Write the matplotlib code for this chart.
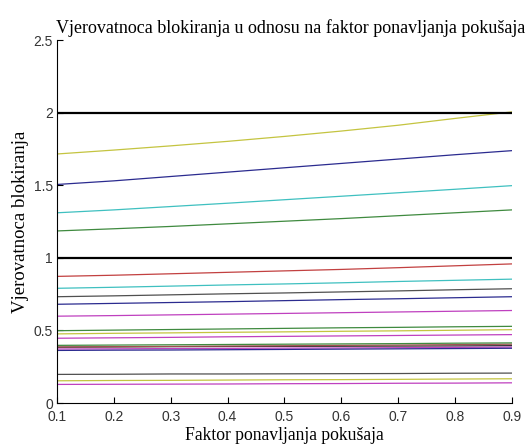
import numpy as np
import matplotlib
matplotlib.use("Agg")
import matplotlib.pyplot as plt

# x values (retry factor)
x = [0.1, 0.2, 0.3, 0.4, 0.5, 0.6, 0.7, 0.8, 0.9]

# blocking probability curves
upper_yellow = [1.715, 1.742, 1.771, 1.802, 1.836, 1.873, 1.913, 1.96, 2.005]
upper_navy = [1.505, 1.53, 1.56, 1.59, 1.62, 1.65, 1.68, 1.71, 1.738]
upper_cyan = [1.31, 1.33, 1.353, 1.376, 1.40, 1.424, 1.448, 1.472, 1.497]
upper_green = [1.185, 1.20, 1.216, 1.234, 1.252, 1.27, 1.29, 1.31, 1.33]

low_red = [0.872, 0.88, 0.89, 0.90, 0.91, 0.92, 0.932, 0.945, 0.958]
low_cyan = [0.79, 0.797, 0.805, 0.813, 0.82, 0.828, 0.837, 0.845, 0.853]
low_gray = [0.732, 0.738, 0.745, 0.752, 0.758, 0.765, 0.772, 0.78, 0.787]
low_navy = [0.68, 0.686, 0.692, 0.698, 0.705, 0.712, 0.718, 0.725, 0.732]
low_magenta = [0.598, 0.602, 0.607, 0.612, 0.617, 0.622, 0.627, 0.632, 0.637]
low_green = [0.498, 0.502, 0.506, 0.51, 0.514, 0.518, 0.521, 0.525, 0.528]
low_yellow = [0.476, 0.48, 0.483, 0.487, 0.49, 0.494, 0.497, 0.501, 0.505]
low_purple = [0.446, 0.449, 0.452, 0.456, 0.459, 0.462, 0.465, 0.468, 0.471]
band_green = [0.397, 0.399, 0.401, 0.403, 0.405, 0.407, 0.409, 0.412, 0.414]
band_red = [0.386, 0.388, 0.39, 0.392, 0.394, 0.397, 0.399, 0.402, 0.405]
band_black = [0.384, 0.386, 0.388, 0.389, 0.39, 0.391, 0.392, 0.393, 0.395]
band_magenta = [0.372, 0.373, 0.375, 0.376, 0.378, 0.379, 0.381, 0.383, 0.385]
band_navy = [0.362, 0.364, 0.365, 0.367, 0.369, 0.371, 0.373, 0.375, 0.377]
bot_gray = [0.197, 0.198, 0.2, 0.2, 0.201, 0.202, 0.203, 0.205, 0.206]
bot_yellow = [0.153, 0.155, 0.156, 0.158, 0.16, 0.161, 0.163, 0.165, 0.167]
bot_magenta = [0.128, 0.129, 0.13, 0.131, 0.133, 0.134, 0.136, 0.137, 0.139]

limit_two = [2.0] * len(x)
limit_one = [1.0] * len(x)

xticks = [0.1, 0.2, 0.3, 0.4, 0.5, 0.6, 0.7, 0.8, 0.9]
yticks = [0, 0.5, 1, 1.5, 2, 2.5]
ytick_labels = ["0", "0.5", "1", "1.5", "2", "2.5"]

navy = "#2b2b8f"
green = "#3f8a3f"
red = "#c24040"
cyan = "#3fc0c0"
magenta = "#bf40bf"
yellow = "#c4c440"
gray = "#505050"

series = [
    (upper_yellow, yellow), (upper_navy, navy), (upper_cyan, cyan), (upper_green, green),
    (low_red, red), (low_cyan, cyan), (low_gray, gray), (low_navy, navy),
    (low_magenta, magenta), (low_green, green), (low_yellow, yellow), (low_purple, magenta),
    (band_black, "#303030"), (band_red, "#a05050"), (band_green, green),
    (band_magenta, magenta), (band_navy, navy),
    (bot_gray, gray), (bot_yellow, yellow), (bot_magenta, magenta),
]

fig = plt.figure(figsize=(5.31, 4.46), dpi=100)
ax = fig.add_axes([0.1073, 0.0964, 0.8569, 0.8139])

for values, color in series:
    ax.plot(x, values, color=color, linewidth=0.9)

ax.plot(x, limit_two, color="black", linewidth=1.6)
ax.plot(x, limit_one, color="black", linewidth=1.6)

ax.set_xlim(0.1, 0.9)
ax.set_ylim(0, 2.5)
ax.set_xticks(xticks)
ax.set_xticklabels([f"{t:g}" for t in xticks])
ax.set_yticks(yticks)
ax.set_yticklabels(ytick_labels)

ax.spines["top"].set_visible(False)
ax.spines["right"].set_visible(False)
ax.spines["left"].set_linewidth(0.8)
ax.spines["bottom"].set_linewidth(0.8)
ax.tick_params(direction="in", length=4, width=0.8, labelsize=10)
ax.tick_params(axis="x", pad=5)
ax.tick_params(axis="y", pad=3)
for lbl in ax.get_xticklabels() + ax.get_yticklabels():
    lbl.set_fontfamily("Liberation Sans")
    lbl.set_color("#333333")

ax.set_title("Vjerovatnoca blokiranja u odnosu na faktor ponavljanja pokušaja",
             fontfamily="Liberation Serif", fontsize=13, pad=5, x=0.514)
ax.set_xlabel("Faktor ponavljanja pokušaja", fontfamily="Liberation Serif",
              fontsize=12.7, labelpad=2)
ax.set_ylabel("Vjerovatnoca blokiranja", fontfamily="Liberation Serif",
              fontsize=13.5, labelpad=3)

fig.savefig("out.png", dpi=100)
